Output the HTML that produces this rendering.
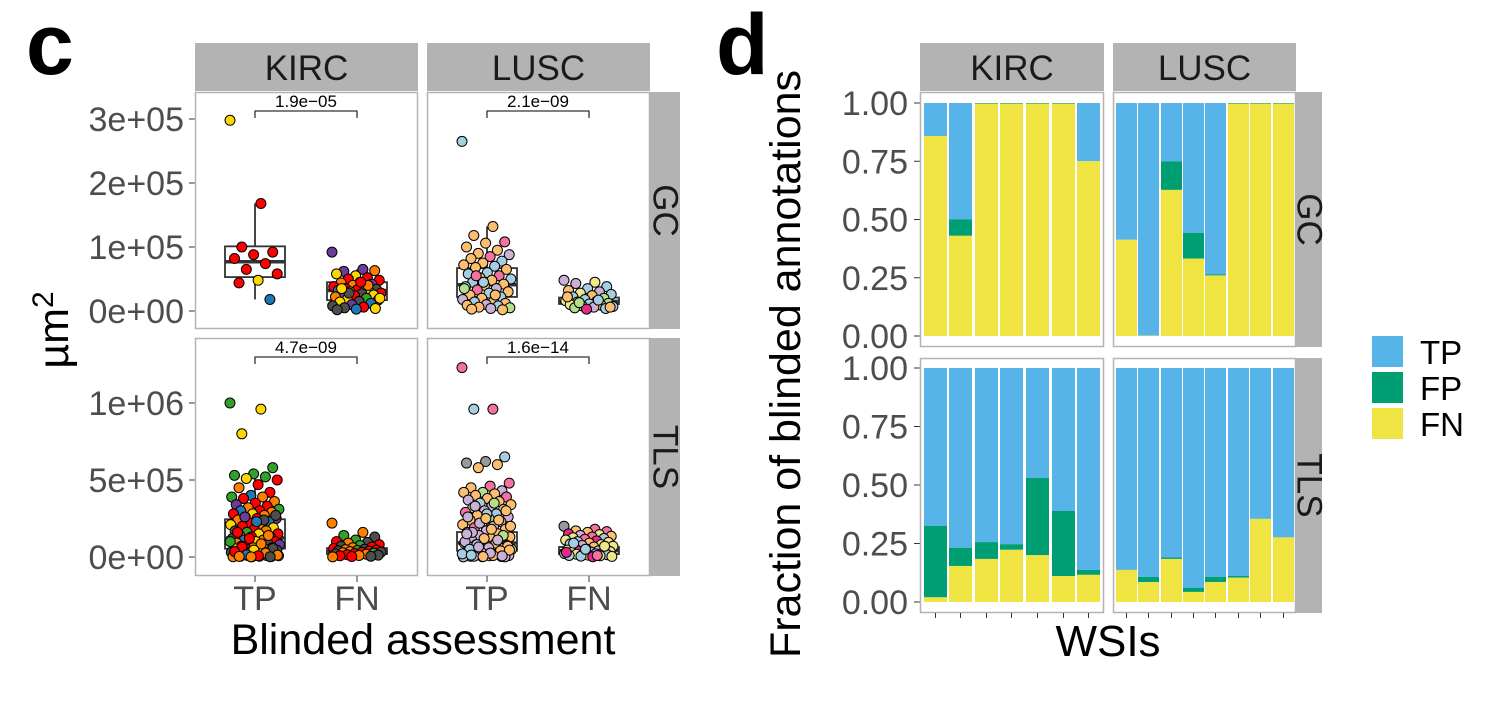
<!DOCTYPE html>
<html><head><meta charset="utf-8"><style>
body{margin:0;background:#fff;}
svg{display:block;font-family:"Liberation Sans",Arial,sans-serif;}
</style></head><body>
<svg id="c" width="1492" height="706" viewBox="0 0 1492 706"></svg>
<script>
// ---------- Data: panel c (values in units of 1e3 µm²) ----------
const kircGcTP=[298,168,100,92,88,82,74,65,58,48,44,18];
const kircGcTPc="yrrrrrrrryrbr".slice(0,12);
const kircGcFN=[92,65,62,63,55,58,52,50,48,45,44,42,40,38,36,35,34,33,32,30,30,28,27,26,25,24,22,20,18,17,15,14,12,10,8,6,5,4,3,2,40,28,20,45,35];
const kircGcFNc="pppoyyrrrgoporyrkrbyorkpyrogyrkybpkrkybkokyryp";
const luscGcTP=[265,132,118,108,106,100,95,90,88,85,82,78,75,72,70,68,65,60,58,55,52,50,48,45,42,40,38,35,33,30,28,25,22,20,18,15,14,12,10,9,8,6,5,4,3,2,45,35,25,55];
const luscGcTPc="boopoooolpobooboobbpobobooblpobobolobolobogloobgopblb";
const luscGcFN=[48,45,43,38,35,32,30,28,26,24,22,20,18,16,15,14,12,11,10,9,8,7,6,5,4,3,22,17,13,6];
const luscGcFNc="lylbbolybobgbylogbyogblgbmobgo";
const kircTlsTP=[1000,960,800,580,540,530,520,510,500,470,450,420,400,390,390,380,360,350,340,330,320,310,300,300,290,280,280,270,260,250,250,240,230,220,210,200,200,190,180,170,170,160,150,150,140,130,130,120,110,110,100,100,90,90,80,80,70,70,60,60,55,50,50,45,40,40,35,30,30,25,20,20,15,15,10,10,8,5,5,3,2,2,240,260,270,230,160,140,120,100,85,65,55,45,35,25,15,12,8,4,2,1];
const kircTlsTPc="gyyggggyrrorbgororprogrbo yroyprobryoryrkogryopr kobryokrpokroyorkpor bkyorkporyokkrokpkbrorgorkyroboroko ryorkrgko".replace(/ /g,"");
const kircTlsFN=[220,160,140,130,110,100,95,90,80,75,70,65,60,55,50,48,45,42,40,38,35,32,30,28,25,22,20,18,15,12,10,8,5,3,1];
const kircTlsFNc="oogkgrkorgkrorkorgkrokrogrkorkorkro";
const luscTlsTP=[1230,960,960,650,620,610,600,580,480,460,450,430,420,420,410,400,390,380,370,360,350,340,330,320,310,300,290,280,270,260,250,240,230,220,210,200,190,180,170,160,150,140,130,120,110,100,95,90,85,80,75,70,65,60,55,50,45,40,35,30,25,20,15,10,8,5,3,2,1,350,330,300,280,260,240,220,200,180,160,140,120,100,90,80,70,60,50,40,30,20,10,5,1,250,150,110,65,45,25,12,7,3];
const luscTlsTPc="ppbbkkooppolgooopolobolgolpbolgolbolpolboloolbolpolbologlolbolllboollglobloloolgolobolbolbollolllolbloloo";
const luscTlsFN=[200,180,170,165,160,150,145,140,135,130,125,120,115,110,105,100,95,90,85,80,75,70,65,60,55,50,45,40,38,35,32,30,28,25,22,20,18,15,12,10,8,6,4,2,90,70,50,30,10];
const luscTlsFNc="kpopomylopybpymbyobylyobobybmybyoyblybobybymbybmpboy";
// box stats [q1, median, q3, lowWhisker, highWhisker]
const boxKircGcTP=[53,77,101,18,168];
const boxKircGcFN=[17,32,45,2,65];
const boxLuscGcTP=[22,41,67,2,132];
const boxLuscGcFN=[11,15,21,2,35];
const boxKircTlsTP=[54,123,245,1,530];
const boxKircTlsFN=[19,37,58,1,110];
const boxLuscTlsTP=[41,91,162,1,420];
const boxLuscTlsFN=[19,41,65,1,130];
const pvals=["1.9e\u221205","2.1e\u221209","4.7e\u221209","1.6e\u221214"];
const gcTicks=[0,100,200,300];const gcTickLabels=["0e+00","1e+05","2e+05","3e+05"];
const tlsTicks=[0,500,1000];const tlsTickLabels=["0e+00","5e+05","1e+06"];
// ---------- Data: panel d (fractions FN, FP per WSI; TP = rest) ----------
const kircGcFNf=[0.858,0.43,0.997,0.997,0.997,0.997,0.75];
const kircGcFPf=[0,0.07,0.003,0.003,0.003,0.003,0];
const luscGcFNf=[0.413,0.002,0.627,0.332,0.26,0.997,0.997,0.997];
const luscGcFPf=[0,0,0.123,0.111,0.004,0.003,0.003,0.003];
const kircTlsFNf=[0.02,0.154,0.184,0.223,0.2,0.111,0.116];
const kircTlsFPf=[0.305,0.078,0.072,0.024,0.33,0.278,0.021];
const luscTlsFNf=[0.137,0.085,0.184,0.043,0.085,0.104,0.355,0.276];
const luscTlsFPf=[0,0.022,0.006,0.018,0.022,0.007,0,0];
const fracTicks=[0,0.25,0.5,0.75,1];const fracTickLabels=["0.00","0.25","0.50","0.75","1.00"];

const svg=document.getElementById('c');const NS="http://www.w3.org/2000/svg";
function mk(tag,attrs,parent,text){const e=document.createElementNS(NS,tag);for(const k in attrs)e.setAttribute(k,attrs[k]);if(text!==undefined)e.textContent=text;(parent||svg).appendChild(e);return e;}
const kc={r:"#ff0000",o:"#ff7f00",y:"#ffd700",g:"#33a02c",b:"#1f78b4",p:"#6a3d9a",k:"#4d4d4d"};
const lc={b:"#a6cee3",o:"#fdbf6f",p:"#f4729f",l:"#cab2d6",g:"#b2df8a",y:"#f0e68c",k:"#999999",m:"#e7298a"};

let t=mk('text',{x:26,y:74,'font-size':86,'font-weight':'bold'},svg,'c');

t=mk('text',{x:716,y:74,'font-size':86,'font-weight':'bold'},svg,'d');


// ---------- panel c ----------
const cCols=[{x0:195,x1:418,name:'KIRC',pal:kc},{x0:427,x1:650,name:'LUSC',pal:lc}];
const cRows=[{y0:92,y1:329,zeroY:311,per:0.64,name:'GC',ticks:gcTicks,labels:gcTickLabels},
             {y0:338,y1:576,zeroY:557,per:0.154,name:'TLS',ticks:tlsTicks,labels:tlsTickLabels}];
const cData=[[[kircGcTP,kircGcTPc,boxKircGcTP,kircGcFN,kircGcFNc,boxKircGcFN],[luscGcTP,luscGcTPc,boxLuscGcTP,luscGcFN,luscGcFNc,boxLuscGcFN]],
             [[kircTlsTP,kircTlsTPc,boxKircTlsTP,kircTlsFN,kircTlsFNc,boxKircTlsFN],[luscTlsTP,luscTlsTPc,boxLuscTlsTP,luscTlsFN,luscTlsFNc,boxLuscTlsFN]]];
cCols.forEach((c,ci)=>{
  const s=mk('rect',{x:c.x0,y:43,width:c.x1-c.x0,height:48,fill:'#b3b3b3'});
  
  mk('text',{x:(c.x0+c.x1)/2,y:80,'font-size':35,'text-anchor':'middle',fill:'#1a1a1a'},svg,c.name);
});
cRows.forEach((r,ri)=>{
  const s=mk('rect',{x:650,y:r.y0,width:30,height:r.y1-r.y0,fill:'#b3b3b3'});
  
  const cy=(r.y0+r.y1)/2;
  mk('text',{x:665,y:cy,'font-size':35,'text-anchor':'middle','dominant-baseline':'central',fill:'#1a1a1a',transform:`rotate(90 665 ${cy})`},svg,r.name);
  const yv=v=>r.zeroY-v*r.per;
  r.ticks.forEach((tv,i)=>{
    mk('line',{x1:189,x2:195,y1:yv(tv),y2:yv(tv),stroke:'#333','stroke-width':1});
    const tl=mk('text',{x:184,y:yv(tv)+12,'font-size':34,'text-anchor':'end',fill:'#4d4d4d'},svg,r.labels[i]);
    
  });
  cCols.forEach((c,ci)=>{
    const g=mk('g',{});
    mk('rect',{x:c.x0+0.5,y:r.y0+0.5,width:c.x1-c.x0-1,height:r.y1-r.y0-1,fill:'#fff',stroke:'#b3b3b3','stroke-width':1.5},g);
    const d=cData[ri][ci];
    const centers=[c.x0+60,c.x0+162];
    [0,1].forEach(k=>{
      const vals=d[k*3],cols=d[k*3+1],bx=d[k*3+2],cx=centers[k];
      const bg=mk('g',{},g);
      mk('line',{x1:cx,x2:cx,y1:yv(bx[3]),y2:yv(bx[0]),stroke:'#333','stroke-width':1.8},bg);
      mk('line',{x1:cx,x2:cx,y1:yv(bx[2]),y2:yv(bx[4]),stroke:'#333','stroke-width':1.8},bg);
      mk('rect',{x:cx-30,y:yv(bx[2]),width:60,height:Math.max(1,yv(bx[0])-yv(bx[2])),fill:'#fff',stroke:'#333','stroke-width':1.8},bg);
      mk('line',{x1:cx-30,x2:cx+30,y1:yv(bx[1]),y2:yv(bx[1]),stroke:'#333','stroke-width':3.5},bg);
      vals.forEach((v,i)=>{
        const j=(((i*0.6180339)%1)-0.5)*50;
        const p=mk('circle',{cx:cx+j,cy:yv(v),r:5,fill:c.pal[cols[i]]||c.pal[Object.keys(c.pal)[i%7]],stroke:'#000','stroke-width':1},g);
        
      });
    });
    const by=r.y0+19;
    mk('path',{d:`M${centers[0]} ${by+7}V${by}H${centers[1]}V${by+7}`,fill:'none',stroke:'#333','stroke-width':1.3},g);
    const pt=mk('text',{x:(centers[0]+centers[1])/2,y:by-4,'font-size':17,'text-anchor':'middle',fill:'#000'},g,pvals[ri*2+ci]);
    
    if(ri===1){centers.forEach((x,k)=>{
      mk('line',{x1:x,x2:x,y1:576,y2:582,stroke:'#333'});
      const xl=mk('text',{x:x,y:610,'font-size':34,'text-anchor':'middle',fill:'#4d4d4d'},svg,k?'FN':'TP');
      
    });}
  });
});
t=mk('text',{x:423,y:654,'font-size':43,'text-anchor':'middle'},svg,'Blinded assessment');

t=mk('text',{x:0,y:0,'font-size':43,'text-anchor':'middle',transform:'translate(68 330) rotate(-90)'},svg);

mk('tspan',{},t,'µm');mk('tspan',{dy:-15,'font-size':30},t,'2');

// ---------- panel d ----------
const dCols=[{x0:920,x1:1104,name:'KIRC',bars:[[924,947],[949,972],[975,998],[1000,1023],[1026,1049],[1052,1075],[1077,1100]]},
             {x0:1113,x1:1296,name:'LUSC',bars:[[1116,1137],[1138,1159],[1161,1182],[1183,1204],[1205,1226],[1228,1249],[1250,1271],[1273,1294]]}];
const dRows=[{y0:92,y1:347,top:103,zero:336,name:'GC'},{y0:358,y1:613,top:368,zero:602,name:'TLS'}];
const dData=[[[kircGcFNf,kircGcFPf],[luscGcFNf,luscGcFPf]],[[kircTlsFNf,kircTlsFPf],[luscTlsFNf,luscTlsFPf]]];
const TPc="#56b4e9",FPc="#009e73",FNc="#f0e442";
dCols.forEach(c=>{
  const s=mk('rect',{x:c.x0,y:43,width:c.x1-c.x0,height:48,fill:'#b3b3b3'});
  
  mk('text',{x:(c.x0+c.x1)/2,y:80,'font-size':35,'text-anchor':'middle',fill:'#1a1a1a'},svg,c.name);
});
dRows.forEach((r,ri)=>{
  const s=mk('rect',{x:1296,y:r.y0,width:26,height:r.y1-r.y0,fill:'#b3b3b3'});
  
  const cy=(r.y0+r.y1)/2;
  mk('text',{x:1309,y:cy,'font-size':35,'text-anchor':'middle','dominant-baseline':'central',fill:'#1a1a1a',transform:`rotate(90 1309 ${cy})`},svg,r.name);
  const yv=f=>r.zero-f*(r.zero-r.top);
  fracTicks.forEach((tv,i)=>{
    mk('line',{x1:914,x2:920,y1:yv(tv),y2:yv(tv),stroke:'#333'});
    const tl=mk('text',{x:908,y:yv(tv)+12,'font-size':34,'text-anchor':'end',fill:'#4d4d4d'},svg,fracTickLabels[i]);
    
  });
  dCols.forEach((c,ci)=>{
    const g=mk('g',{});
    mk('rect',{x:c.x0+0.5,y:r.y0+0.5,width:c.x1-c.x0-1,height:r.y1-r.y0-1,fill:'#fff',stroke:'#b3b3b3','stroke-width':1.5},g);
    const fn=dData[ri][ci][0],fp=dData[ri][ci][1];
    c.bars.forEach((b,i)=>{
      const w=b[1]-b[0];
      const tp=mk('rect',{x:b[0],y:yv(1),width:w,height:yv(fn[i]+fp[i])-yv(1),fill:TPc},g);
      
      const f2=mk('rect',{x:b[0],y:yv(fn[i]+fp[i]),width:w,height:yv(fn[i])-yv(fn[i]+fp[i]),fill:FPc},g);
      
      const f3=mk('rect',{x:b[0],y:yv(fn[i]),width:w,height:yv(0)-yv(fn[i]),fill:FNc},g);
      
      if(ri===1)mk('line',{x1:(b[0]+b[1])/2,x2:(b[0]+b[1])/2,y1:613,y2:618,stroke:'#333'});
    });
  });
});
t=mk('text',{x:1108,y:656,'font-size':44,'text-anchor':'middle'},svg,'WSIs');

t=mk('text',{x:0,y:0,'font-size':43,'text-anchor':'middle',transform:'translate(800 364) rotate(-90)'},svg,'Fraction of blinded annotations');

[['TP',TPc],['FP',FPc],['FN',FNc]].forEach((e,i)=>{
  const g=mk('g',{});
  mk('rect',{x:1372,y:336+i*36,width:31,height:31,fill:e[1]},g);
  mk('text',{x:1420,y:364+i*36,'font-size':33},g,e[0]);
});
</script>
</body></html>
